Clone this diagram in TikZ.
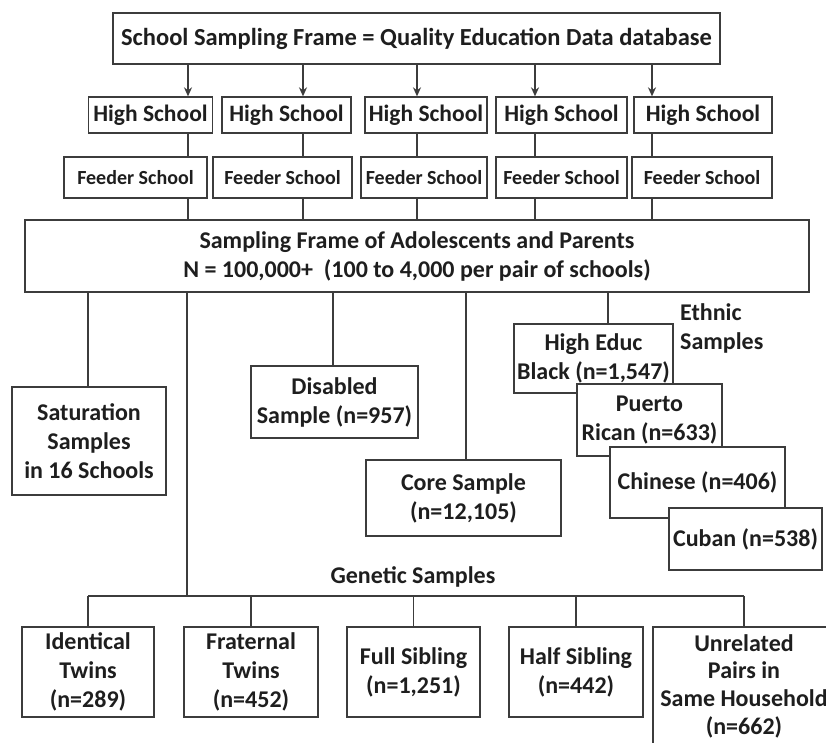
\documentclass[tikz,border=0pt]{standalone}
\usepackage{fontspec}
\setmainfont{Carlito}
\usetikzlibrary{arrows.meta}
\definecolor{linec}{HTML}{3C3C3C}
\definecolor{txt}{HTML}{1E1E1E}
\tikzset{
  box/.style={draw=linec, line width=1.3pt, fill=white, align=center, inner sep=0pt, text=txt,
    font=\bfseries\fontsize{24}{29}\selectfont},
  hsbox/.style={box, font=\bfseries\fontsize{23.5}{27}\selectfont},
  fsbox/.style={box, font=\bfseries\fontsize{20}{24}\selectfont},
  lbl/.style={align=left, inner sep=0pt, text=txt, font=\bfseries\fontsize{24}{29}\selectfont},
  conn/.style={draw=linec, line width=1.3pt},
  arr/.style={conn, -{Stealth[length=9pt,width=8pt]}},
  sz/.style n args={2}{minimum width=#1pt, minimum height=#2pt},
}
\begin{document}
\begin{tikzpicture}[x=1pt,y=-1pt]
\useasboundingbox (0,0) rectangle (826,743);
\clip (0,0) rectangle (826,743);
\fill[white] (0,0) rectangle (826,743);

% column coordinates
\coordinate (c1) at (188,0);
\coordinate (c2) at (303,0);
\coordinate (c3) at (417,0);
\coordinate (c4) at (535,0);
\coordinate (c5) at (652,0);
\coordinate (s1) at (88,0);
\coordinate (s2) at (187,0);
\coordinate (s3) at (333,0);
\coordinate (s4) at (466,0);
\coordinate (s5) at (608,0);
\coordinate (barL) at (88,596);
\coordinate (barR) at (744,596);
\coordinate (barG) at (187,596);

% top
\node[box, font=\bfseries\fontsize{24.5}{28}\selectfont, sz={607}{51}] (top) at (416.5,38.5) {School Sampling Frame = Quality Education Data database};

% high schools
\node[hsbox, sz={124}{36}] (hs1) at (150.5,115) {High School};
\node[hsbox, sz={129}{36}] (hs2) at (286.5,115) {High School};
\node[hsbox, sz={122}{36}] (hs3) at (426,115) {High School};
\node[hsbox, sz={131}{36}] (hs4) at (561.5,115) {High School};
\node[hsbox, sz={138}{36}] (hs5) at (703,115) {High School};

% feeder schools
\node[fsbox, sz={143}{41}] (fs1) at (135.5,177.5) {Feeder School};
\node[fsbox, sz={139}{41}] (fs2) at (282.5,177.5) {Feeder School};
\node[fsbox, sz={126}{41}] (fs3) at (424,177.5) {Feeder School};
\node[fsbox, sz={131}{41}] (fs4) at (561.5,177.5) {Feeder School};
\node[fsbox, sz={140}{41}] (fs5) at (702,177.5) {Feeder School};

% sampling frame
\node[box, sz={784}{72}] (sf) at (417,256) {Sampling Frame of Adolescents and Parents\\N = 100,000+~ (100 to 4,000 per pair of schools)};

% connectors top -> hs -> fs -> sf
\foreach \i in {1,...,5} {
  \draw[arr] (c\i |- top.south) -- (c\i |- hs\i.north);
  \draw[conn] (c\i |- hs\i.south) -- (c\i |- fs\i.north);
  \draw[conn] (c\i |- fs\i.south) -- (c\i |- sf.north);
}

% second level
\node[box, sz={154}{108}] (sat) at (89,441) {Saturation\\Samples\\in 16 Schools};
\node[box, sz={167}{72}] (dis) at (334.5,402) {Disabled\\Sample (n=957)};
\node[box, sz={195}{76}] (core) at (463.5,498) {Core Sample\\(n=12,105)};

\draw[conn] (s1 |- sf.south) -- (s1 |- sat.north);
\draw[conn] (s3 |- sf.south) -- (s3 |- dis.north);
\draw[conn] (s4 |- sf.south) -- (s4 |- core.north);
\draw[conn] (s5 |- sf.south) -- (s5 |- 0,324);

% ethnic
\node[lbl, anchor=west] (eth) at (680,328) {Ethnic\\Samples};
\node[box, sz={159}{69}] (he) at (593.5,358.5) {High Educ\\Black (n=1,547)};
\node[box, sz={145}{72}] (pr) at (649.5,420) {Puerto\\Rican (n=633)};
\node[box, sz={175}{71}] (ch) at (697.5,482.5) {Chinese (n=406)};
\node[box, sz={153}{62}] (cu) at (745.5,539) {Cuban (n=538)};

% genetic
\draw[conn] (s2 |- sf.south) -- (barG);
\draw[conn] (barL) -- (barR);
\node[lbl, align=center] (gen) at (413,577) {Genetic Samples};
\node[box, sz={132}{90}] (g1) at (88,672) {Identical\\Twins\\(n=289)};
\node[box, sz={134}{90}] (g2) at (251,672) {Fraternal\\Twins\\(n=452)};
\node[box, sz={133}{90}] (g3) at (413.5,672) {Full Sibling\\(n=1,251)};
\node[box, sz={134}{90}] (g4) at (576,672) {Half Sibling\\(n=442)};
\node[box, sz={182}{118}, font=\bfseries\fontsize{24}{27.7}\selectfont] (g5) at (744,686) {Unrelated\\Pairs in\\Same Household\\(n=662)};
\foreach \i in {1,...,5} {
  \draw[conn] (g\i.north |- barL) -- (g\i.north);
}
\end{tikzpicture}
\end{document}
